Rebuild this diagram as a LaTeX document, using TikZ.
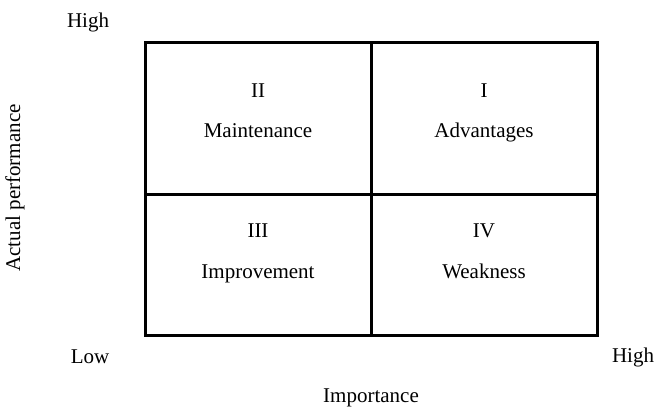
\documentclass[tikz,border=0pt]{standalone}
\usepackage{fontspec}
\setmainfont{Liberation Serif}
\usetikzlibrary{positioning}

\tikzset{ipaQuadrant/.style={
    draw=black,
    line width=3pt,
    minimum width=226pt,
    inner sep=0pt,
  }
}
\tikzset{ipaText/.style={
    font=\fontsize{21}{25}\selectfont,
    inner sep=0pt,
  }
}

\begin{document}
\begin{tikzpicture}[x=1pt, y=1pt]
  \useasboundingbox (0,0) rectangle (656,408);

  % the four quadrants
  \node [ipaQuadrant, minimum height=151pt] (q2) at (258, 289.5) {};
  \node [ipaQuadrant, minimum height=151pt] (q1) at (484, 289.5) {};
  \node [ipaQuadrant, minimum height=141pt] (q3) at (258, 143.5) {};
  \node [ipaQuadrant, minimum height=141pt] (q4) at (484, 143.5) {};

  \node [ipaText, anchor=base] (q2num) at (258, 311) {II};
  \node [ipaText, anchor=base] (q2name) at (258, 271) {Maintenance};
  \node [ipaText, anchor=base] (q1num) at (484, 311) {I};
  \node [ipaText, anchor=base] (q1name) at (484, 271) {Advantages};
  \node [ipaText, anchor=base] (q3num) at (258, 171) {III};
  \node [ipaText, anchor=base] (q3name) at (258, 130) {Improvement};
  \node [ipaText, anchor=base] (q4num) at (484, 171) {IV};
  \node [ipaText, anchor=base] (q4name) at (484, 130) {Weakness};

  % axis ends and titles
  \node [ipaText] (yhigh) at (88, 386) {High};
  \node [ipaText] (xlow) at (90, 51) {Low};
  \node [ipaText] (xhigh) at (633, 51) {High};
  \node [ipaText] (xtitle) at (371, 10) {Importance};
  \node [ipaText, rotate=90] (ytitle) at (15, 220) {Actual performance};
\end{tikzpicture}
\end{document}
